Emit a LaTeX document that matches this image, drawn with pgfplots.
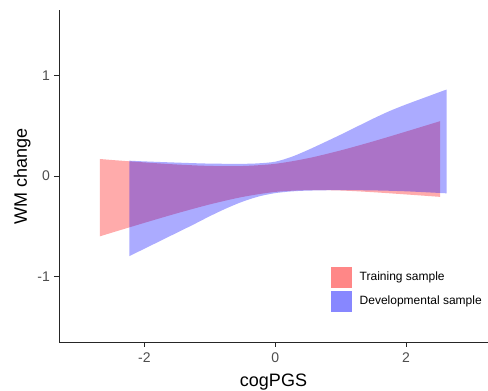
\documentclass[border=0pt]{standalone}
\usepackage{fontspec}
\setmainfont{Liberation Sans}
\usepackage{pgfplots}
\pgfplotsset{compat=1.18}
\usepgfplotslibrary{fillbetween}
\definecolor{grey30}{RGB}{77,77,77}
\begin{document}
\begin{tikzpicture}
\begin{axis}[
  name=ax,
  scale only axis, width=429pt, height=332pt,
  xmin=-3.306, xmax=3.254, ymin=-1.648, ymax=1.648,
  axis x line*=bottom, axis y line*=left,
  axis line style={line width=0.9pt, black!85},
  tick style={line width=0.9pt, black!85},
  tick align=outside, major tick length=5pt,
  xtick={-2,0,2}, xticklabels={-2,0,2},
  ytick={-1,0,1}, yticklabels={-1,0,1},
  tick label style={font=\fontsize{14}{16}\selectfont, text=grey30, inner sep=0pt},
  xticklabel style={anchor=north, yshift=-6pt},
  yticklabel style={anchor=east, xshift=-4pt},
  xlabel={cogPGS}, ylabel={WM change},
  label style={font=\fontsize{18}{20}\selectfont, inner sep=0pt},
  xlabel style={at={(axis description cs:0.5,-0.1346)}, anchor=base},
  ylabel style={at={(axis description cs:-0.0746,0.5)}, anchor=base},
  legend style={at={(rel axis cs:0.6317,0.231)}, anchor=north west, draw=none, fill=none,
    inner sep=0pt, font=\fontsize{12}{14}\selectfont, row sep=2pt,
    /tikz/every odd column/.style={column sep=5pt}},
  legend cell align=left,
]
% Training sample band
\addplot[name path=rt, draw=none, smooth, forget plot] coordinates {
(-2.68,0.169) (-2.5,0.159) (-2,0.135) (-1.5,0.114) (-1,0.100) (-0.5,0.099) (0,0.121) (0.5,0.176) (1,0.254) (1.5,0.344) (2,0.441) (2.52,0.544)};
\addplot[name path=rb, draw=none, smooth, forget plot] coordinates {
(-2.68,-0.599) (-2.5,-0.563) (-2,-0.465) (-1.5,-0.370) (-1,-0.282) (-0.5,-0.208) (0,-0.158) (0.5,-0.140) (1,-0.144) (1.5,-0.161) (2,-0.183) (2.52,-0.207)};
\addplot[fill=red, fill opacity=0.33, draw=none,
  legend image code/.code={\fill[red, fill opacity=0.47, draw=white, line width=0.5pt] (0pt,-11pt) rectangle (22pt,11pt);}]
  fill between[of=rt and rb];
\addlegendentry{Training sample}
% Developmental sample band
\addplot[name path=bt, draw=none, smooth, forget plot] coordinates {
(-2.23,0.152) (-2,0.145) (-1.5,0.133) (-1,0.123) (-0.5,0.121) (-0.25,0.126) (0,0.142) (0.25,0.19) (0.5,0.258) (0.75,0.333) (1,0.41) (1.25,0.49) (1.5,0.57) (1.75,0.645) (2,0.71) (2.25,0.77) (2.5,0.83) (2.62,0.858)};
\addplot[name path=bb, draw=none, smooth, forget plot] coordinates {
(-2.23,-0.795) (-2,-0.722) (-1.75,-0.642) (-1.5,-0.562) (-1.25,-0.482) (-1,-0.399) (-0.75,-0.322) (-0.5,-0.255) (-0.25,-0.203) (0,-0.17) (0.25,-0.153) (0.5,-0.145) (1,-0.14) (1.5,-0.143) (2,-0.152) (2.62,-0.172)};
\addplot[fill=blue, fill opacity=0.33, draw=none,
  legend image code/.code={\fill[blue, fill opacity=0.47, draw=white, line width=0.5pt] (0pt,-11pt) rectangle (22pt,11pt);}]
  fill between[of=bt and bb];
\addlegendentry{Developmental sample}
\end{axis}
\pgfresetboundingbox
\path[use as bounding box] ([shift={(-59pt,-49pt)}]ax.south west) rectangle ([shift={(0pt,10pt)}]ax.north east);
\end{tikzpicture}
\end{document}
